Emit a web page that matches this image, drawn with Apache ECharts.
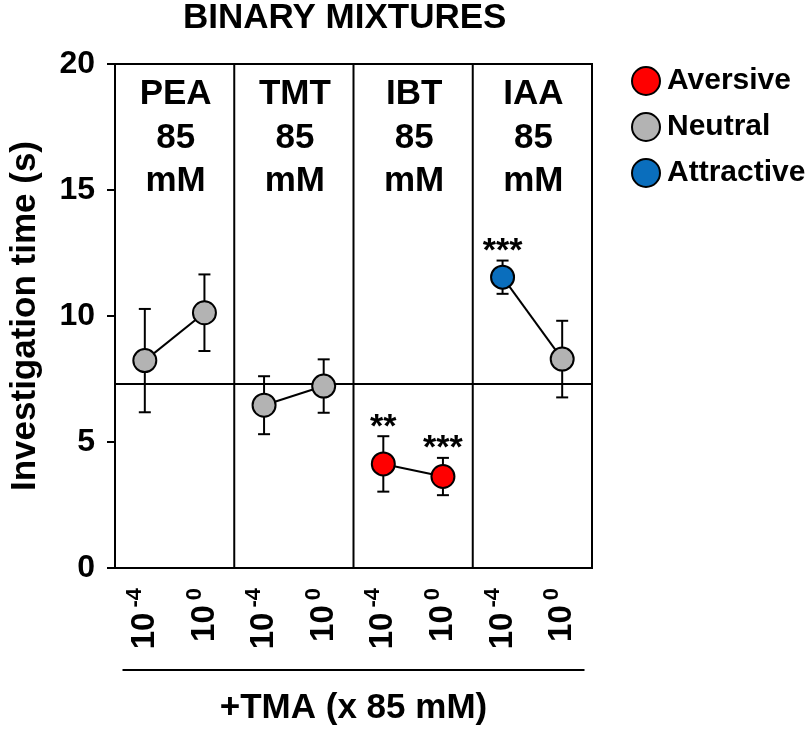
<!DOCTYPE html>
<html>
<head>
<meta charset="utf-8">
<script src="https://cdn.jsdelivr.net/npm/echarts@6/dist/echarts.min.js"></script>
<style>
html,body{margin:0;padding:0;background:#fff;}
#chart{width:810px;height:735px;}
</style>
</head>
<body>
<div id="chart"></div>
<script>
// ---- data ----
const categories = ['PEA 10^-4','PEA 10^0','TMT 10^-4','TMT 10^0','IBT 10^-4','IBT 10^0','IAA 10^-4','IAA 10^0'];
const tmaExponents = ['-4','0','-4','0','-4','0','-4','0'];
const odorLabels = ['PEA','TMT','IBT','IAA'];
const odorConc = ['85','85','85','85'];
const odorUnit = 'mM';
const meanTime = [8.23, 10.13, 6.46, 7.22, 4.13, 3.63, 11.54, 8.29];
const semTime  = [2.05, 1.52, 1.15, 1.06, 1.10, 0.74, 0.66, 1.52];
const valence  = ['Neutral','Neutral','Neutral','Neutral','Aversive','Aversive','Attractive','Neutral'];
const significance = ['', '', '', '', '**', '***', '***', ''];
const baselineTime = 7.31;
const valenceClasses = ['Aversive','Neutral','Attractive'];
const valenceColors = ['#ff0000','#b3b3b3','#0a6ebd'];
const yMin = 0, yMax = 20, yInterval = 5;
const titleText = 'BINARY MIXTURES';
const yName = 'Investigation time (s)';
const xName = '+TMA (x 85 mM)';

const FONT = '"Liberation Sans", Arial, Helvetica, sans-serif';

const chart = echarts.init(document.getElementById('chart'), null, {renderer:'canvas'});

const lineSeries = odorLabels.map((o, p) => ({
  type: 'line',
  name: 'pair-' + o,
  data: [[2*p, meanTime[2*p]], [2*p+1, meanTime[2*p+1]]],
  showSymbol: false,
  symbol: 'none',
  lineStyle: {color: '#000', width: 2},
  z: 2,
  silent: true,
  markLine: p === 0 ? {
    silent: true, symbol: 'none', label: {show: false},
    lineStyle: {color: '#000', width: 2, type: 'solid'},
    data: [{yAxis: baselineTime}]
  } : undefined
}));

const scatterSeries = valenceClasses.map((cls, k) => ({
  type: 'scatter',
  name: cls,
  data: meanTime.map((v, i) => valence[i] === cls ? [i, v] : null).filter(d => d),
  symbol: 'circle',
  symbolSize: 23,
  itemStyle: {color: valenceColors[k], borderColor: '#000', borderWidth: 2, opacity: 1},
  z: 5
}));

const errorSeries = {
  type: 'custom',
  name: 'sem',
  silent: true,
  z: 3,
  data: meanTime.map((v, i) => [i, v, semTime[i]]),
  encode: {x: 0, y: 1},
  renderItem: (params, api) => {
    const i = api.value(0), m = api.value(1), e = api.value(2);
    const t = api.coord([i, m + e]);
    const b = api.coord([i, m - e]);
    const hw = 6;
    const st = {stroke: '#000', lineWidth: 2};
    const children = [
      {type: 'line', shape: {x1: t[0], y1: t[1], x2: b[0], y2: b[1]}, style: st},
      {type: 'line', shape: {x1: t[0]-hw, y1: t[1], x2: t[0]+hw, y2: t[1]}, style: st},
      {type: 'line', shape: {x1: b[0]-hw, y1: b[1], x2: b[0]+hw, y2: b[1]}, style: st}
    ];
    const sig = significance[i];
    if (sig) {
      children.push({type: 'text', style: {text: sig, x: t[0], y: t[1] + 8, align: 'center', verticalAlign: 'bottom',
        font: 'bold 34px ' + FONT, fill: '#000'}});
    }
    return {type: 'group', children};
  }
};

const panelSeries = {
  type: 'custom',
  name: 'panels',
  silent: true,
  z: 1,
  data: odorLabels.map((o, p) => [2*p, 2*p+1]),
  encode: {x: 0},
  clip: false,
  renderItem: (params, api) => {
    const p = params.dataIndex;
    const a = api.coord([api.value(0), yMax]);
    const c = api.coord([api.value(1), yMax]);
    const bottom = api.coord([api.value(1), yMin])[1];
    const step = c[0] - a[0];
    const cx = (a[0] + c[0]) / 2;
    const right = c[0] + step / 2;
    const children = [
      {type: 'text', style: {text: odorLabels[p] + '\n' + odorConc[p] + '\n' + odorUnit, x: cx + 1, y: a[1] + 9,
        align: 'center', verticalAlign: 'top', lineHeight: 43.5, font: 'bold 35px ' + FONT, fill: '#000'}}
    ];
    if (p < odorLabels.length - 1) {
      children.push({type: 'line', shape: {x1: right, y1: a[1], x2: right, y2: bottom}, style: {stroke: '#000', lineWidth: 2}});
    }
    return {type: 'group', children};
  }
};

const option = {
  animation: false,
  backgroundColor: '#fff',
  textStyle: {fontFamily: FONT},
  title: {
    text: titleText, left: 183, top: 1, padding: 0,
    textStyle: {fontFamily: FONT, fontSize: 35, fontWeight: 'bold', color: '#000'}
  },
  legend: {
    data: valenceClasses,
    orient: 'vertical', left: 631, top: 66, padding: 0,
    icon: 'circle', itemWidth: 28, itemHeight: 28, itemGap: 16,
    textStyle: {fontFamily: FONT, fontSize: 30, fontWeight: 'bold', color: '#000', padding: [0,0,0,2]},
    selectedMode: false
  },
  grid: {left: 113, right: 218, top: 64, bottom: 167, show: true, borderColor: '#000', borderWidth: 2, containLabel: false},
  xAxis: {
    type: 'category',
    data: categories,
    boundaryGap: true,
    axisLine: {lineStyle: {color: '#000', width: 2}},
    axisTick: {alignWithLabel: true, length: 10, lineStyle: {color: '#000', width: 2}},
    splitLine: {show: false},
    axisLabel: {
      interval: 0, rotate: 90, margin: 20,
      formatter: (v, idx) => '{b|10}{s|' + tmaExponents[idx] + '}',
      rich: {
        b: {fontFamily: FONT, fontSize: 33, fontWeight: 'bold', color: '#000', lineHeight: 42},
        s: {fontFamily: FONT, fontSize: 22, fontWeight: 'bold', color: '#000', verticalAlign: 'top', padding: [0,0,0,5]}
      }
    },
    name: '{l| }\n{t|' + xName + '}',
    nameLocation: 'middle',
    nameGap: 101,
    nameTextStyle: {
      rich: {
        l: {width: 462, height: 2, lineHeight: 2, backgroundColor: '#000'},
        t: {fontFamily: FONT, fontSize: 35, fontWeight: 'bold', color: '#000', lineHeight: 74}
      }
    }
  },
  yAxis: {
    type: 'value', min: yMin, max: yMax, interval: yInterval,
    axisLine: {show: true, lineStyle: {color: '#000', width: 2}},
    axisTick: {show: true, length: 8, lineStyle: {color: '#000', width: 2}},
    splitLine: {show: false},
    axisLabel: {fontFamily: FONT, fontSize: 32, fontWeight: 'bold', color: '#000', margin: 20},
    name: yName, nameLocation: 'middle', nameGap: 72,
    nameTextStyle: {fontFamily: FONT, fontSize: 35, fontWeight: 'bold', color: '#000'}
  },
  series: [panelSeries, ...lineSeries, errorSeries, ...scatterSeries]
};
chart.setOption(option);
</script>
</body>
</html>
